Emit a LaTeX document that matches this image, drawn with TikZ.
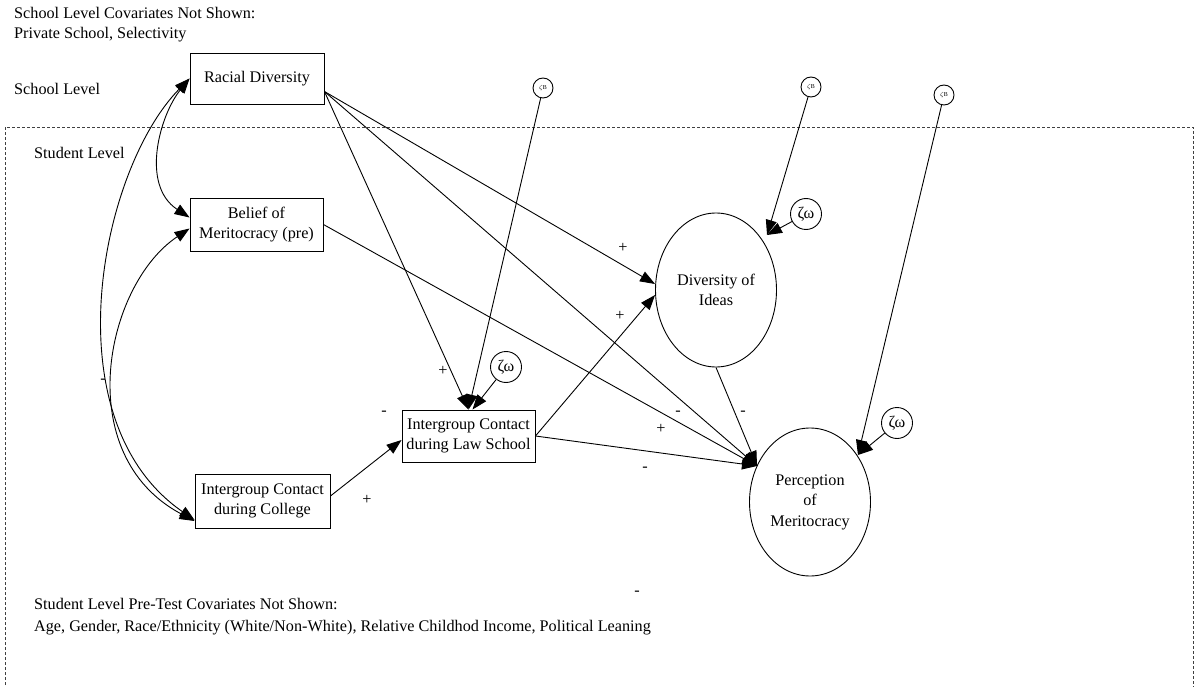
\documentclass[tikz,border=0pt]{standalone}
\usepackage{fontspec}
\setmainfont{Liberation Serif}
\usetikzlibrary{arrows.meta,shapes.geometric}
\begin{document}
\begin{tikzpicture}[x=1pt,y=-1pt,
  every node/.style={font=\fontsize{16.2}{20.5}\selectfont, inner sep=0pt},
  lbl/.style={anchor=base west},
  sign/.style={font=\fontsize{16.2}{20.5}\selectfont},
  box/.style={draw, line width=0.9pt, align=center},
  oval/.style={draw, ellipse, line width=0.9pt, align=center},
  zb/.style={draw, circle, line width=0.9pt, minimum size=20pt, font=\fontsize{6}{7}\selectfont},
  zw/.style={draw, circle, line width=0.9pt, minimum size=31pt},
  arr/.style={line width=0.9pt, -{Triangle[length=15pt,width=11pt]}},
  darr/.style={line width=0.9pt, {Triangle[length=15pt,width=11pt]}-{Triangle[length=15pt,width=11pt]}}
]
\useasboundingbox (0,0) rectangle (1194,687);

% student-level frame (open at the bottom)
\draw[line width=0.9pt, black!75, dash pattern=on 3pt off 2pt]
  (5,700) -- (5,127) -- (1193,127) -- (1193,700);

% captions
\node[lbl] (capA) at (14,19) {School Level Covariates Not Shown:};
\node[lbl] (capB) at (14,39) {Private School, Selectivity};
\node[lbl] (capSchool) at (14,95) {School Level};
\node[lbl] (capStudent) at (34,159) {Student Level};
\node[lbl] (capC) at (34,609) {Student Level Pre-Test Covariates Not Shown:};
\node[lbl] (capD) at (34,631) {Age, Gender, Race/Ethnicity (White/Non-White), Relative Childhod Income, Political Leaning};

% observed variables
\node[box, minimum width=134pt, minimum height=51pt] (RD) at (257,78.5) {Racial Diversity};
\node[box, minimum width=133pt, minimum height=53pt] (Bel) at (256.5,224.5) {Belief of\\Meritocracy (pre)};
\node[box, minimum width=135pt, minimum height=54pt] (Col) at (262.5,501) {Intergroup Contact\\during College};
\node[box, minimum width=133pt, minimum height=52pt] (Law) at (468.5,436) {Intergroup Contact\\during Law School};

% latent outcomes
\node[oval, minimum width=121pt, minimum height=154pt] (Div) at (716,290) {Diversity of\\Ideas};
\node[oval, minimum width=121pt, minimum height=148pt] (Per) at (810,502) {Perception\\of\\Meritocracy};

% disturbances
\node[zb] (zB1) at (543,88) {$\zeta$B};
\node[zb] (zB2) at (811,87) {$\zeta$B};
\node[zb] (zB3) at (944,95) {$\zeta$B};
\node[zw] (zW1) at (506,367) {ζω};
\node[zw] (zW2) at (806,214) {ζω};
\node[zw] (zW3) at (897,423) {ζω};

\coordinate (PerIn) at (757,466);
\coordinate (DivIn) at (767,235);
\coordinate (PerTop) at (858,455);

% covariances on the left
\draw[darr] (RD.west) .. controls (160,115) and (140,185) .. ([yshift=7pt]Bel.west);
\draw[darr] (RD.west) .. controls (100,170) and (50,420) .. ([yshift=-19pt]Col.west);
\draw[darr] ([yshift=-4pt]Bel.west) .. controls (105,285) and (70,455) .. ([yshift=-20pt]Col.west);

% structural paths
\draw[arr] ([yshift=-13pt]RD.east) -- (Law.north);
\draw[arr] ([yshift=-13pt]RD.east) -- ([yshift=6pt]Div.west);
\draw[arr] ([yshift=-13pt]RD.east) -- (PerIn);
\draw[arr] (Bel.east) -- (PerIn);
\draw[arr] ([yshift=5pt]Col.east) -- ([yshift=-4pt]Law.west);
\draw[arr] (Law.east) -- ([yshift=-5pt]Div.west);
\draw[arr] (Law.east) -- (PerIn);
\draw[arr] (Div.south) -- (PerIn);

% disturbance paths
\draw[arr] (zB1) -- (Law.north);
\draw[arr] (zW1) -- ([xshift=4pt]Law.north);
\draw[arr] (zB2) -- (DivIn);
\draw[arr] (zW2) -- (DivIn);
\draw[arr] (zB3) -- (PerTop);
\draw[arr] (zW3) -- (PerTop);

% signs
\node[sign] (s1) at (623,248) {+};
\node[sign] (s2) at (620,316) {+};
\node[sign] (s3) at (443,371) {+};
\node[sign] (s4) at (384,413) {-};
\node[sign] (s5) at (103,381) {-};
\node[sign] (s6) at (367,500) {+};
\node[sign] (s7) at (678,413) {-};
\node[sign] (s8) at (743,413) {-};
\node[sign] (s9) at (661,429) {+};
\node[sign] (s10) at (645,469) {-};
\node[sign] (s11) at (637,593) {-};
\end{tikzpicture}
\end{document}
